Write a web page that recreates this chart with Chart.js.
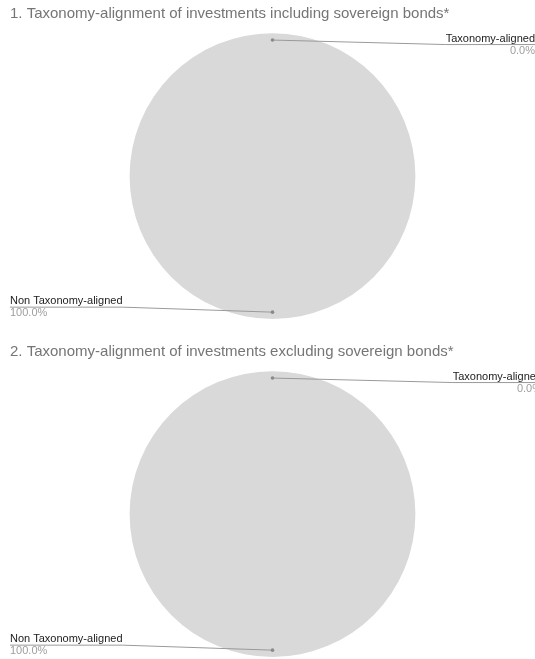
<!DOCTYPE html>
<html>
<head>
<meta charset="utf-8">
<script src="https://cdn.jsdelivr.net/npm/chart.js@4.4.1/dist/chart.umd.min.js"></script>
<style>
  html, body { margin: 0; padding: 0; background: #fff; overflow: hidden; }
  .box { position: relative; width: 535px; height: 338px; }
</style>
</head>
<body>
<div class="box"><canvas id="pie1"></canvas></div>
<div class="box"><canvas id="pie2"></canvas></div>
<script>
// --- data ---
const sliceLabels = ["Taxonomy-aligned", "Non Taxonomy-aligned"];
const inclSovereign = [0, 100];
const exclSovereign = [0, 100];
const titles = [
  "1. Taxonomy-alignment of investments including sovereign bonds*",
  "2. Taxonomy-alignment of investments excluding sovereign bonds*"
];

const FONT = "'Liberation Sans', Arial, sans-serif";
const sliceColors = ["#4285f4", "#d9d9d9"];

// leader lines + labels, drawn off the arc elements
const leaderLabels = {
  id: "leaderLabels",
  afterDatasetsDraw(chart, args, opts) {
    const ctx = chart.ctx;
    const meta = chart.getDatasetMeta(0);
    const data = chart.data.datasets[0].data;
    const total = data.reduce((a, b) => a + b, 0);
    const right = chart.width + (opts.rightShift || 0);
    const left = chart.chartArea.left;

    meta.data.forEach((arc, i) => {
      const p = arc.getProps(["x", "y", "startAngle", "endAngle", "outerRadius"], true);
      const mid = (p.startAngle + p.endAngle) / 2;
      const r = p.outerRadius * 0.952;
      const dx = p.x + Math.cos(mid) * r;
      const dy = p.y + Math.sin(mid) * r;
      const pct = (data[i] / total * 100).toFixed(1) + "%";
      const name = chart.data.labels[i];

      ctx.save();
      ctx.font = "11px " + FONT;
      const w = ctx.measureText(name).width;
      ctx.strokeStyle = "#9a9a9a";
      ctx.lineWidth = 1;
      ctx.beginPath();
      let lineY, textX, align;
      if (Math.sin(mid) < 0) {
        lineY = dy + 4.5;
        ctx.moveTo(dx, dy);
        ctx.lineTo(right - w, lineY);
        ctx.lineTo(right, lineY);
        textX = right;
        align = "right";
      } else {
        lineY = dy - 5;
        ctx.moveTo(dx, dy);
        ctx.lineTo(left + w, lineY);
        ctx.lineTo(left, lineY);
        textX = left;
        align = "left";
      }
      ctx.stroke();

      ctx.fillStyle = "#8a8a8a";
      ctx.beginPath();
      ctx.arc(dx, dy, 1.8, 0, Math.PI * 2);
      ctx.fill();

      ctx.textAlign = align;
      ctx.textBaseline = "alphabetic";
      ctx.fillStyle = "#222222";
      ctx.fillText(name, textX, lineY - 3);
      ctx.fillStyle = "#9e9e9e";
      ctx.fillText(pct, textX, lineY + 9);
      ctx.restore();
    });
  }
};

function makePie(id, title, values, rightShift) {
  return new Chart(document.getElementById(id), {
    type: "pie",
    data: {
      labels: sliceLabels,
      datasets: [{
        data: values,
        backgroundColor: sliceColors,
        borderWidth: 0,
        hoverOffset: 0
      }]
    },
    options: {
      responsive: true,
      maintainAspectRatio: false,
      animation: false,
      layout: { padding: { left: 10, right: 0, top: 0, bottom: 19 } },
      plugins: {
        legend: { display: false },
        tooltip: { enabled: false },
        title: {
          display: true,
          text: title,
          align: "start",
          color: "#757575",
          font: { family: FONT, size: 15, weight: "normal" },
          padding: { top: 5.2, bottom: 10 }
        },
        leaderLabels: { rightShift: rightShift }
      }
    },
    plugins: [leaderLabels]
  });
}

makePie("pie1", titles[0], inclSovereign, 0);
makePie("pie2", titles[1], exclSovereign, 7);
</script>
</body>
</html>
